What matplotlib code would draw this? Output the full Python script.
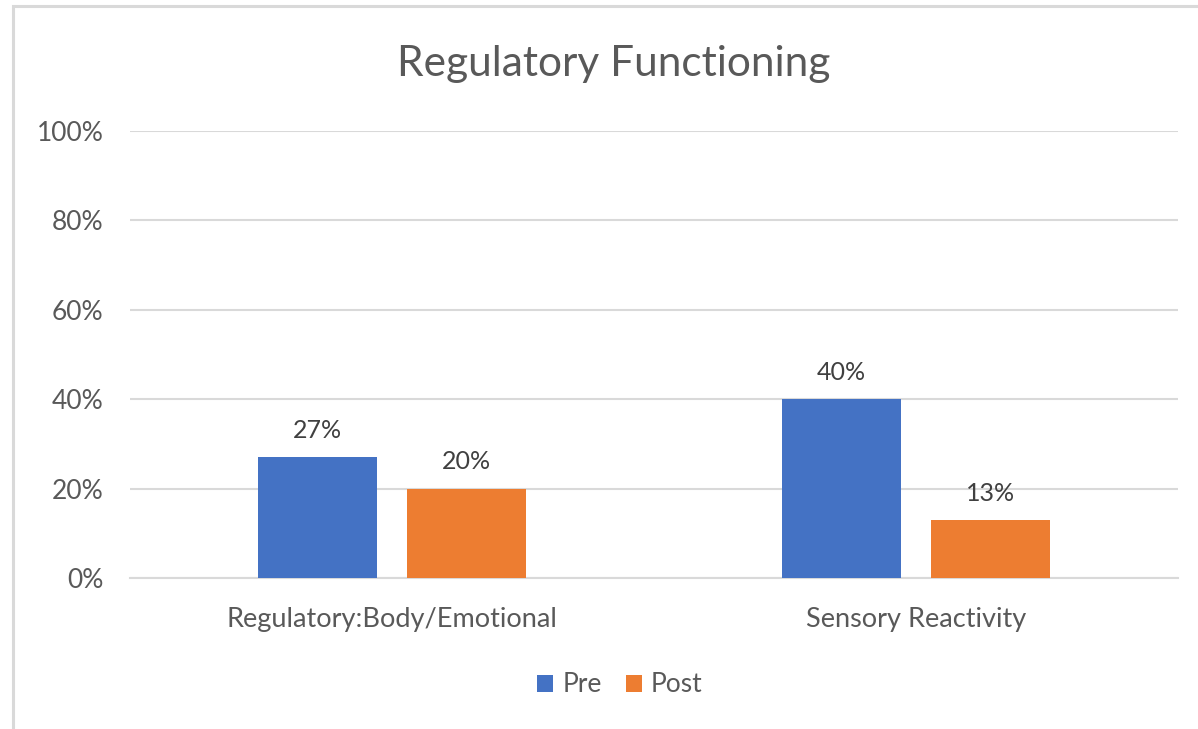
import matplotlib
matplotlib.use("Agg")
import matplotlib.pyplot as plt
import numpy as np
from matplotlib.patches import Rectangle

categories = ["Regulatory:Body/Emotional", "Sensory Reactivity"]
pre = [27, 40]
post = [20, 13]
series_names = ["Pre", "Post"]
yticks = [0, 20, 40, 60, 80, 100]

plt.rcParams['font.family'] = ['Lato', 'DejaVu Sans']
W, H = 1198, 729
fig = plt.figure(figsize=(W/100, H/100), dpi=100)
fig.patch.set_facecolor('white')

# frame
fig.add_artist(Rectangle((12.5/W, -0.1), 2.0, 1.1 - 6.5/H, transform=fig.transFigure,
                         fill=False, edgecolor='#d9d9d9', linewidth=2.2))

ax = fig.add_axes([130/W, 1-578/H, (1178-130)/W, (578-131)/H])
x = np.arange(len(categories))
bw = 0.227
off = 0.142
c_pre = '#4472c4'
c_post = '#ed7d31'
b1 = ax.bar(x - off, pre, bw, color=c_pre, label=series_names[0], zorder=3)
b2 = ax.bar(x + off, post, bw, color=c_post, label=series_names[1], zorder=3)
ax.set_xlim(-0.5, 1.5)
ax.set_ylim(0, 100)
ax.set_yticks(yticks)
ax.set_yticklabels([f"{v}%" for v in yticks])
ax.yaxis.grid(True, color='#d9d9d9', linewidth=1.5, zorder=0)
ax.set_axisbelow(True)
for s in ax.spines.values():
    s.set_visible(False)
ax.spines['bottom'].set_visible(True)
ax.spines['bottom'].set_color('#d9d9d9')
ax.spines['bottom'].set_linewidth(1.5)
ax.tick_params(axis='both', length=0, colors='#595959', labelsize=19)
ax.tick_params(axis='y', pad=19)
ax.tick_params(axis='x', pad=21)
ax.set_xticks(x)
ax.set_xticklabels(categories, fontsize=19.5)

for bars, vals in ((b1, pre), (b2, post)):
    for r, v in zip(bars, vals):
        ax.annotate(f"{v}%", (r.get_x() + r.get_width()/2, v), xytext=(0, 11),
                    textcoords='offset points', ha='center', va='bottom',
                    color='#404040', fontsize=18)

fig.text(614/W, 1-64/H, "Regulatory Functioning", ha='center', va='center',
         fontsize=30.5, color='#595959')

leg = fig.legend(handles=[b1, b2], labels=series_names, loc='center',
                 bbox_to_anchor=(620/W, 1-685/H), ncol=2, frameon=False,
                 fontsize=19, handlelength=0.6, handleheight=0.6,
                 handletextpad=0.35, columnspacing=0.9, labelcolor='#595959')

fig.savefig("out.png", dpi=100, facecolor='white')
